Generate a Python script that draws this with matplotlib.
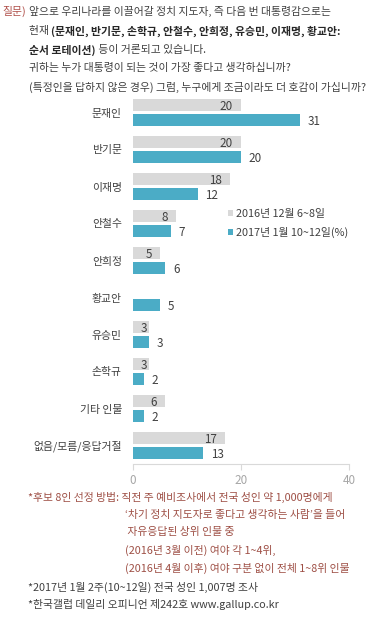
import matplotlib
matplotlib.use("Agg")
import matplotlib.pyplot as plt
import numpy as np

plt.rcParams['font.family'] = ['Noto Sans CJK KR', 'DejaVu Sans']

categories = ["문재인", "반기문", "이재명", "안철수", "안희정", "황교안", "유승민", "손학규", "기타 인물", "없음/모름/응답거절"]
dec2016 = [20, 20, 18, 8, 5, np.nan, 3, 3, 6, 17]
jan2017 = [31, 20, 12, 7, 6, 5, 3, 2, 2, 13]
series_labels = ["2016년 12월 6~8일", "2017년 1월 10~12일(%)"]
xticks = [0, 20, 40]

question_lines = [
    "앞으로 우리나라를 이끌어갈 정치 지도자, 즉 다음 번 대통령감으로는",
    None,
    None,
    "귀하는 누가 대통령이 되는 것이 가장 좋다고 생각하십니까?",
    "(특정인을 답하지 않은 경우) 그럼, 누구에게 조금이라도 더 호감이 가십니까?",
]
notes_red = [
    ("*후보 8인 선정 방법: 직전 주 예비조사에서 전국 성인 약 1,000명에게", 28),
    ("‘차기 정치 지도자로 좋다고 생각하는 사람’을 들어", 125),
    (" 자유응답된 상위 인물 중", 125),
    ("(2016년 3월 이전) 여야 각 1~4위,", 125),
    ("(2016년 4월 이후) 여야 구분 없이 전체 1~8위 인물", 125),
]
notes_dark = [
    "*2017년 1월 2주(10~12일) 전국 성인 1,007명 조사",
    "*한국갤럽 데일리 오피니언 제242호 www.gallup.co.kr",
]

W, H = 376, 617
fig = plt.figure(figsize=(W / 100, H / 100), dpi=100)
fig.patch.set_facecolor("white")

def P(x, y):
    return (x / W, 1 - y / H)

GRAY = "#D9D9D9"
BLUE = "#4BACC6"
TXT = "#404040"
RED = "#9E4F45"
FS = 7.8

# axes
ax = fig.add_axes([133 / W, 1 - 464 / H, 216 / W, 370 / H])
ax.set_xlim(0, 40)
ax.set_ylim(9.5, -0.5)
y = np.arange(len(categories))
off, h = 0.203, 0.324
b1 = ax.barh(y - off, dec2016, height=h, color=GRAY, label=series_labels[0])
b2 = ax.barh(y + off, jan2017, height=h, color=BLUE, label=series_labels[1])

for yi, v in zip(y, dec2016):
    if not np.isnan(v):
        ax.text(max(v - 1.5, 2.7), yi - off + 0.03, f"{v:g}", ha="right", va="center",
                fontsize=8.4, color=TXT)
for yi, v in zip(y, jan2017):
    ax.text(v + 1.4, yi + off + 0.05, f"{v:g}", ha="left", va="center",
            fontsize=8.4, color=TXT)

ax.set_yticks(y)
ax.set_yticklabels(categories, fontsize=FS, color=TXT)
ax.tick_params(axis="y", length=0, pad=8)
ax.set_xticks(xticks)
ax.set_xticklabels([str(t) for t in xticks], fontsize=8.4, color="#A6A6A6")
ax.tick_params(axis="x", length=4, color=GRAY, width=0.8, pad=3)
for s in ["top", "right", "left"]:
    ax.spines[s].set_visible(False)
ax.spines["bottom"].set_color(GRAY)
ax.spines["bottom"].set_linewidth(0.8)
ax.patch.set_alpha(0)

leg = ax.legend(handles=[b1, b2], loc="upper left", bbox_to_anchor=P(228, 209),
                bbox_transform=fig.transFigure, frameon=False, fontsize=FS,
                handlelength=0.5, handleheight=0.5, handletextpad=0.25,
                labelspacing=0.75, borderpad=0, borderaxespad=0)
for t in leg.get_texts():
    t.set_color(TXT)

# header
fig.text(*P(2, 11), "질문)", color="#B0504A", fontsize=FS, va="center", ha="left")
fig.text(*P(29, 11), question_lines[0], color=TXT, fontsize=FS, va="center", ha="left")
t1 = fig.text(*P(29, 31), "현재 ", color=TXT, fontsize=FS, va="center", ha="left")
t2 = fig.text(*P(29, 50), "순서 로테이션)", color="#262626", fontsize=FS, fontweight="bold",
              va="center", ha="left")
fig.canvas.draw()
r = fig.canvas.get_renderer()
e1 = t1.get_window_extent(r)
e2 = t2.get_window_extent(r)
fig.text(e1.x1 / W, 1 - 31 / H, "(문재인, 반기문, 손학규, 안철수, 안희정, 유승민, 이재명, 황교안:",
         color="#262626", fontsize=FS, fontweight="bold", va="center", ha="left")
fig.text(e2.x1 / W, 1 - 50 / H, " 등이 거론되고 있습니다.", color=TXT, fontsize=FS,
         va="center", ha="left")
fig.text(*P(29, 68), question_lines[3], color=TXT, fontsize=FS, va="center", ha="left")
fig.text(*P(29, 87), question_lines[4], color=TXT, fontsize=FS, va="center", ha="left")

# footnotes
ys_red = [497, 515, 532, 550, 568]
for (txt, x), yy in zip(notes_red, ys_red):
    fig.text(*P(x, yy), txt, color=RED, fontsize=FS, va="center", ha="left")
for txt, yy in zip(notes_dark, [587, 605]):
    fig.text(*P(28, yy), txt, color=TXT, fontsize=FS, va="center", ha="left")

fig.savefig("out.png", dpi=100, facecolor="white")
